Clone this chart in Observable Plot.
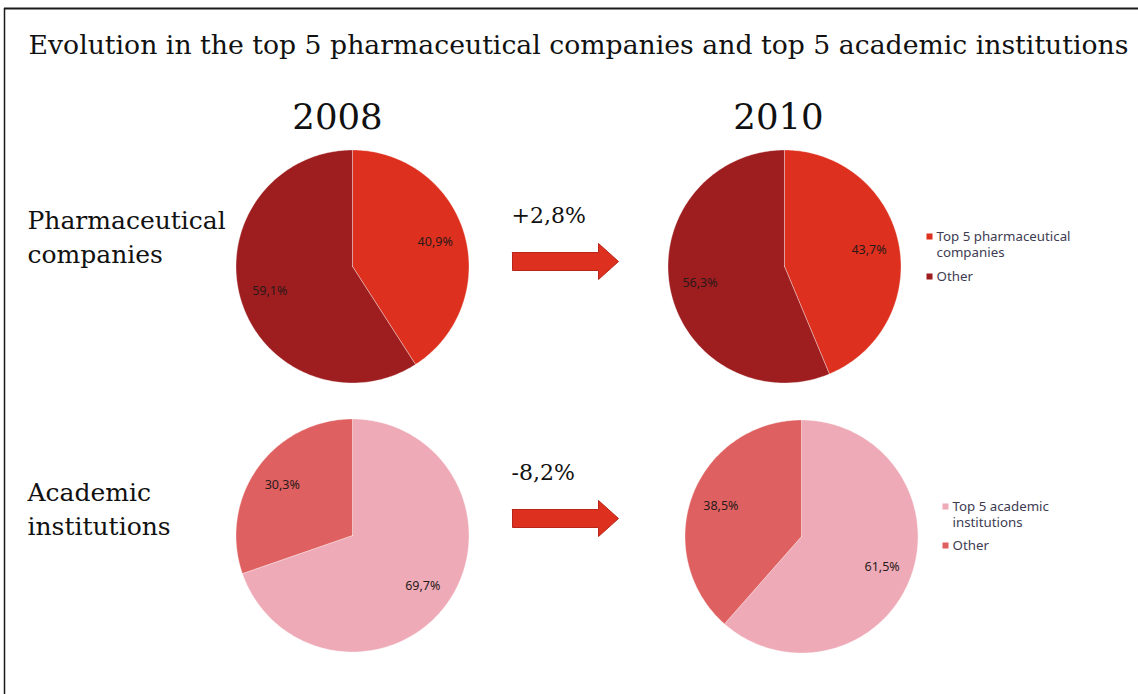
<!DOCTYPE html>
<html>
<head>
<meta charset="utf-8">
<script src="https://cdn.jsdelivr.net/npm/d3@7"></script>
<script src="https://cdn.jsdelivr.net/npm/@observablehq/plot@0.6"></script>
<style>
  html, body { margin: 0; padding: 0; background: #fff; }
  #chart svg { display: block; }
</style>
</head>
<body>
<div id="chart"></div>
<script>
// ---- data ----
const title = "Evolution in the top 5 pharmaceutical companies and top 5 academic institutions";
const years = ["2008", "2010"];
const groups = [["Pharmaceutical", "companies"], ["Academic", "institutions"]];
const pharmaSlices = ["Top 5 pharmaceutical companies", "Other"];
const academicSlices = ["Top 5 academic institutions", "Other"];
const pharmaTop5 = [40.9, 43.7];
const pharmaOther = [59.1, 56.3];
const academicTop5 = [69.7, 61.5];
const academicOther = [30.3, 38.5];
const changes = ["+2,8%", "-8,2%"];
const legendLabels = [[["Top 5 pharmaceutical", "companies"], ["Other"]], [["Top 5 academic", "institutions"], ["Other"]]];

// ---- styles & layout ----
const colors = {
  pharma: ["#de301e", "#9e1d1f"],
  academic: ["#eeabb7", "#df6060"]
};
const W = 1138, H = 694;
const R = 116.5;
const pieCenters = [
  {group: 0, year: 0, cx: 352, cy: 266},
  {group: 0, year: 1, cx: 784, cy: 266},
  {group: 1, year: 0, cx: 352, cy: 535},
  {group: 1, year: 1, cx: 801, cy: 536}
];
const labelR = 0.74;
const serif = "'DejaVu Serif', 'Liberation Serif', serif";
const sans = "'Noto Sans', 'Open Sans', sans-serif";

// ---- build wedges ----
const wedgePts = [];
const pctLabels = [];
for (const p of pieCenters) {
  const vals = p.group === 0 ? [pharmaTop5[p.year], pharmaOther[p.year]] : [academicTop5[p.year], academicOther[p.year]];
  const names = p.group === 0 ? pharmaSlices : academicSlices;
  const cols = p.group === 0 ? colors.pharma : colors.academic;
  const total = d3.sum(vals);
  let a = 0;
  vals.forEach((v, i) => {
    const a0 = a, a1 = a + (v / total) * 2 * Math.PI;
    a = a1;
    const key = `${p.group}-${p.year}-${i}`;
    wedgePts.push({key, x: p.cx, y: p.cy, fill: cols[i], name: names[i]});
    const n = Math.max(2, Math.ceil((a1 - a0) / (Math.PI / 180)));
    for (let k = 0; k <= n; k++) {
      const t = a0 + (a1 - a0) * k / n;
      wedgePts.push({key, x: p.cx + R * Math.sin(t), y: p.cy - R * Math.cos(t), fill: cols[i], name: names[i]});
    }
    wedgePts.push({key, x: p.cx, y: p.cy, fill: cols[i], name: names[i]});
    const m = (a0 + a1) / 2;
    pctLabels.push({
      x: p.cx + R * labelR * Math.sin(m),
      y: p.cy - R * labelR * Math.cos(m),
      text: v.toFixed(1).replace(".", ",") + "%"
    });
  });
}

// ---- arrows ----
const arrowLayout = [{x0: 512, x1: 618, cy: 261}, {x0: 512, x1: 618, cy: 518}];
const arrowPts = [];
arrowLayout.forEach((ar, i) => {
  const hx = ar.x1 - 20;
  const pts = [[ar.x0, ar.cy - 9], [hx, ar.cy - 9], [hx, ar.cy - 18], [ar.x1, ar.cy], [hx, ar.cy + 18], [hx, ar.cy + 9], [ar.x0, ar.cy + 9], [ar.x0, ar.cy - 9]];
  pts.forEach(([x, y]) => arrowPts.push({key: i, x, y}));
});
const changeLabels = changes.map((c, i) => ({x: 511, y: arrowLayout[i].cy - 39, text: c}));

// ---- legends ----
const legendLayout = [{x: 929, y: 236, otherY: 276}, {x: 945, y: 506, otherY: 545}];
const legendSwatches = [];
const legendTexts = [];
legendLayout.forEach((L, g) => {
  const cols = g === 0 ? colors.pharma : colors.academic;
  legendSwatches.push({x: L.x, y: L.y, fill: cols[0]});
  legendSwatches.push({x: L.x, y: L.otherY, fill: cols[1]});
  legendLabels[g][0].forEach((t, k) => legendTexts.push({x: L.x + 7, y: L.y + 4 + k * 16, text: t}));
  legendLabels[g][1].forEach((t, k) => legendTexts.push({x: L.x + 7, y: L.otherY + 4 + k * 16, text: t}));
});

const yearLabels = years.map((y, i) => ({x: [337, 778][i], y: 128, text: y}));
const groupLabels = [];
groups.forEach((g, i) => g.forEach((t, k) => groupLabels.push({x: 27, y: [228, 500][i] + k * 34.5, text: t})));

const chart = Plot.plot({
  width: W,
  height: H,
  margin: 0,
  x: {domain: [0, W], range: [0, W], axis: null},
  y: {domain: [0, H], range: [0, H], axis: null},
  marks: [
    Plot.ruleY([8], {x1: 4, x2: W, stroke: "#1a1a1a", strokeWidth: 2}),
    Plot.ruleX([4], {y1: 8, y2: H, stroke: "#1a1a1a", strokeWidth: 1.5}),
    Plot.text([title], {x: 28, y: 53, text: d => d, textAnchor: "start", lineAnchor: "bottom", fontFamily: serif, fontSize: 26.7, fill: "#111"}),
    Plot.text(yearLabels, {x: "x", y: "y", text: "text", textAnchor: "middle", lineAnchor: "bottom", fontFamily: serif, fontSize: 35.5, fill: "#111"}),
    Plot.text(groupLabels, {x: "x", y: "y", text: "text", textAnchor: "start", lineAnchor: "bottom", fontFamily: serif, fontSize: 25, fill: "#111"}),
    Plot.line(wedgePts, {x: "x", y: "y", z: "key", fill: "fill", stroke: "#ffffff", strokeOpacity: 0.35, strokeWidth: 1, curve: "linear-closed", title: "name"}),
    Plot.text(pctLabels, {x: "x", y: "y", text: "text", fontFamily: sans, fontSize: 12.5, fill: "#2a1a1a"}),
    Plot.line(arrowPts, {x: "x", y: "y", z: "key", fill: "#de301e", stroke: "#b8261a", strokeWidth: 1, curve: "linear-closed"}),
    Plot.text(changeLabels, {x: "x", y: "y", text: "text", textAnchor: "start", lineAnchor: "bottom", fontFamily: serif, fontSize: 22, fill: "#111"}),
    Plot.dot(legendSwatches, {x: "x", y: "y", fill: "fill", symbol: "square", r: 3.4, stroke: null}),
    Plot.text(legendTexts, {x: "x", y: "y", text: "text", textAnchor: "start", lineAnchor: "bottom", fontFamily: sans, fontSize: 13.3, fill: "#3e3b52"})
  ]
});
document.getElementById("chart").appendChild(chart);
</script>
</body>
</html>
